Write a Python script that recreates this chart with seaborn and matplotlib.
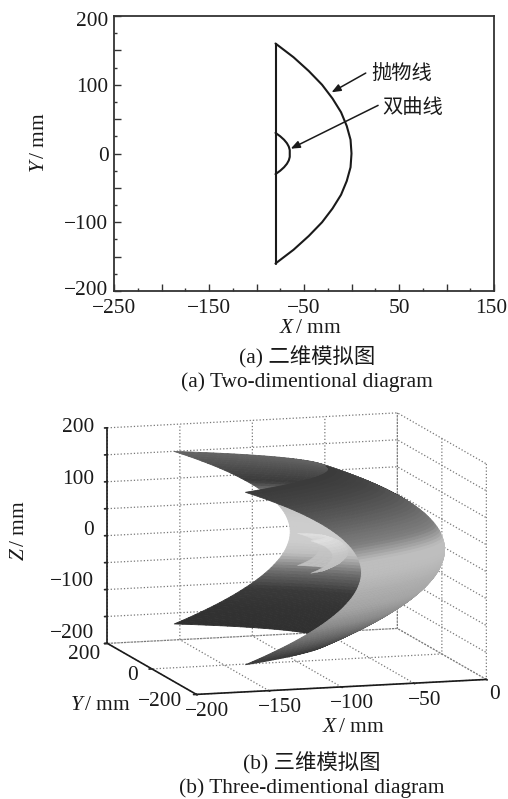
import numpy as np
import matplotlib
matplotlib.use("Agg")
import matplotlib.pyplot as plt
from matplotlib.ticker import FixedLocator
from matplotlib.transforms import ScaledTranslation
import pandas as pd
import seaborn as sns
from mpl_toolkits.mplot3d import proj3d

# ---- data ----
parabola_y = [160, 140, 120, 100, 80, 60, 40, 20, 0, -20, -40, -60, -80, -100, -120, -140, -160]
parabola_x = [-80, -61, -45, -31, -20, -11, -5, -1, 0, -1, -5, -11, -20, -31, -45, -61, -80]
hyperbola_y = [30, 25, 20, 15, 10, 5, 0, -5, -10, -15, -20, -25, -30]
hyperbola_x = [-80, -75, -71, -68, -66, -65, -65, -65, -66, -68, -71, -75, -80]
aperture_x = [-80, -80]
aperture_y = [160, -160]

# half profile of the reflector (depth against off-axis distance), read every 5 mm
profile_r = [0, 5, 10, 15, 20, 25, 30, 35, 40, 45, 50, 55, 60, 65, 70, 75, 80, 85, 90, 95, 100,
             105, 110, 115, 120, 125, 130, 135, 140, 145, 150, 155, 160]
profile_d = [0, -0.1, -0.3, -0.7, -1.3, -2, -2.8, -3.8, -5, -6.3, -7.8, -9.5, -11.3, -13.2, -15.3,
             -17.6, -20, -22.6, -25.3, -28.2, -31.3, -34.5, -37.8, -41.3, -45, -48.8, -52.8, -57,
             -61.3, -65.7, -70.3, -75.1, -80]
sub_r = [0, 5, 10, 15, 20, 25, 30]
sub_d = [0, -0.4, -1.6, -3.5, -6, -10, -15]
sub_vertex = -65

# grey level seen against height
shade_z = [-160, -130, -100, -70, -40, -15, 0, 20, 50, 80, 100, 130, 160]
shade_outer = [55, 100, 140, 165, 175, 185, 190, 190, 128, 105, 90, 70, 58]
shade_inner = [48, 50, 58, 110, 190, 205, 205, 205, 195, 120, 58, 78, 100]
sub_shade_z = [-30, 0, 30]
sub_shade = [190, 198, 225]

xticks2d = [-250, -200, -150, -100, -50, 0, 50, 100, 150]
xlabels2d = [-250, -150, -50, 50, 150]
xminor2d = [-225, -175, -125, -75, -25, 25, 75, 125]
yticks2d = [-200, -150, -100, -50, 0, 50, 100, 150, 200]
ylabels2d = [-200, -100, 0, 100, 200]
yminor2d = [-175, -125, -75, -25, 25, 75, 125, 175]
xticks3d = [-200, -150, -100, -50, 0]
yticks3d = [-200, 0, 200]
zticks3d = [-200, -150, -100, -50, 0, 50, 100, 150, 200]

# ---- style ----
sns.set_theme(style="white")
FAM = ["Liberation Serif", "Noto Sans CJK SC"]
plt.rcParams["font.family"] = FAM
plt.rcParams["mathtext.fontset"] = "custom"
plt.rcParams["mathtext.it"] = "Liberation Serif:italic"
plt.rcParams["mathtext.rm"] = "Liberation Serif"
plt.rcParams["text.color"] = "#1a1a1a"
FS = 15.4
W, H = 508, 799
fig = plt.figure(figsize=(W / 100, H / 100), dpi=100, facecolor="white")
INK = "#1a1a1a"


def lab(v):
    return f"\u2212{abs(v)}" if v < 0 else f"{v}"


# ---- (a) ----
ax = fig.add_axes([114 / W, 1 - 291 / H, 380 / W, 275 / H])
df = pd.DataFrame({"x": parabola_x, "y": parabola_y})
sns.lineplot(data=df, x="x", y="y", sort=False, estimator=None, color=INK, lw=1.5, ax=ax)
sns.lineplot(x=hyperbola_x, y=hyperbola_y, sort=False, estimator=None, color=INK, lw=1.5, ax=ax)
sns.lineplot(x=aperture_x, y=aperture_y, sort=False, estimator=None, color=INK, lw=1.5, ax=ax)
ax.set_xlim(-250, 150)
ax.set_ylim(-200, 200)
ax.set_xticks(xticks2d, [lab(v) if v in xlabels2d else "" for v in xticks2d], fontsize=FS, color=INK)
ax.set_yticks(yticks2d, [lab(v) if v in ylabels2d else "" for v in yticks2d], fontsize=FS, color=INK)
ax.xaxis.set_minor_locator(FixedLocator(xminor2d))
ax.yaxis.set_minor_locator(FixedLocator(yminor2d))
ax.tick_params(axis="x", which="major", pad=6)
ax.tick_params(axis="y", which="major", pad=4)
ax.tick_params(which="major", direction="in", length=5, width=1, color="#333333", bottom=True, left=True)
ax.tick_params(which="minor", direction="in", length=2.5, width=1, color="#333333", bottom=True, left=True)
for t, v in zip(ax.get_yticklabels(), yticks2d):
    if abs(v) == 200:
        t.set_transform(t.get_transform() + ScaledTranslation(0, -np.sign(v) * 3 / 100, fig.dpi_scale_trans))
for t, v in zip(ax.get_xticklabels(), xticks2d):
    if v == 150:
        t.set_transform(t.get_transform() + ScaledTranslation(-3 / 100, 0, fig.dpi_scale_trans))
for s in ax.spines.values():
    s.set_color("#333333")
    s.set_linewidth(1.3)
ax.set_xlabel(r"$\mathit{X}\,$/ mm", fontsize=FS, color=INK, va="center")
ax.set_ylabel(r"$\mathit{Y}\,$/ mm", fontsize=FS, color=INK, va="center")
ax.xaxis.set_label_coords((310 - 114) / 380, (291 - 328) / 275)
ax.yaxis.set_label_coords((39 - 114) / 380, (291 - 143) / 275)
arrow = dict(arrowstyle="-|>,head_length=0.45,head_width=0.18", color=INK, lw=1.1, shrinkA=0, shrinkB=0)
ax.annotate("", xy=(-21, 89), xytext=(15, 117), arrowprops=arrow)
ax.annotate("", xy=(-64, 7), xytext=(28, 70), arrowprops=arrow)
ax.text(21, 115, "抛物线", fontsize=14.6, ha="left", va="center", color=INK)
ax.text(32, 66, "双曲线", fontsize=14.6, ha="left", va="center", color=INK)

fig.text(307 / W, 1 - 357 / H, "(a) 二维模拟图", fontsize=FS, ha="center", va="center", color=INK)
fig.text(307 / W, 1 - 382 / H, "(a) Two-dimentional diagram", fontsize=FS, ha="center", va="center", color=INK)
fig.text(312 / W, 1 - 763 / H, "(b) 三维模拟图", fontsize=FS, ha="center", va="center", color=INK)
fig.text(312 / W, 1 - 788 / H, "(b) Three-dimentional diagram", fontsize=FS, ha="center", va="center", color=INK)

# ---- (b) ----
box = (303, 310, 219)
ax3 = fig.add_axes([0.1, 0.1, 0.6, 0.6 * W / H], projection="3d", proj_type="ortho")
ax3.view_init(elev=9.9, azim=-106.7)
ax3.set_box_aspect(box)
ax3.set_xlim(-200, 0, view_margin=0)
ax3.set_ylim(-200, 200, view_margin=0)
ax3.set_zlim(-200, 200, view_margin=0)
ax3.patch.set_alpha(0)
ax3.computed_zorder = False

# fit the 3-D box onto its place in the figure
ax3.apply_aspect()
M = ax3.get_proj()
pts = [proj3d.proj_transform(x, y, -200, M) for x, y in ((-200, 200), (0, -200))]
side = ax3.get_position().width * W
unit = ax3.transData.transform((pts[1][0], 0))[0] - ax3.transData.transform((pts[0][0], 0))[0]
new_side = side * (485 - 106) / unit
cx, cy = 290.5, 560
ax3.set_position([(cx - new_side / 2) / W, 1 - (cy + new_side / 2) / H, new_side / W, new_side / H])

r = np.array(profile_r, float)
d = np.array(profile_d, float)
R = np.r_[-r[:0:-1], r]
D = np.r_[d[:0:-1], d]
Y, Z = np.meshgrid(R, R, indexing="ij")
X = np.add.outer(D, D)

cam = np.array([np.cos(np.radians(-106.7)) * np.cos(np.radians(9.9)),
                np.sin(np.radians(-106.7)) * np.cos(np.radians(9.9)),
                np.sin(np.radians(9.9))])


def cell_colors(yy, zz):
    yc = (yy[:-1, :-1] + yy[1:, 1:]) / 2
    zc = (zz[:-1, :-1] + zz[1:, 1:]) / 2
    outer = (1 * cam[0] + yc / 160 * cam[1] + zc / 160 * cam[2]) > -0.12
    g = np.where(outer, np.interp(zc, shade_z, shade_outer), np.interp(zc, shade_z, shade_inner)) / 255
    return np.dstack([g, g, g, np.ones_like(g)])


fc = cell_colors(Y, Z)
surf = ax3.plot_surface(X, Y, Z, facecolors=fc, shade=False, rstride=1, cstride=1,
                        antialiased=True, linewidth=0, zorder=2)
surf.set_edgecolor(fc.reshape(-1, 4))
surf.set_linewidth(0.6)

s = np.array(sub_r, float)
sd = np.array(sub_d, float)
SR = np.r_[-s[:0:-1], s]
SD = np.r_[sd[:0:-1], sd]
SY, SZ = np.meshgrid(SR, SR, indexing="ij")
SX = sub_vertex + np.add.outer(SD, SD)
sg = np.interp((SZ[:-1, :-1] + SZ[1:, 1:]) / 2, sub_shade_z, sub_shade) / 255
sfc = np.dstack([sg, sg, sg, np.ones_like(sg)])
sub = ax3.plot_surface(SX, SY, SZ, facecolors=sfc, shade=False, rstride=1, cstride=1, linewidth=0, zorder=3)
sub.set_edgecolor(sfc.reshape(-1, 4))
sub.set_linewidth(0.3)

ax3.set_xticks(xticks3d, [""] * len(xticks3d))
ax3.set_yticks(yticks3d, [""] * len(yticks3d))
ax3.set_zticks(zticks3d, [""] * len(zticks3d))
for a in (ax3.xaxis, ax3.yaxis, ax3.zaxis):
    a.set_pane_color((1, 1, 1, 0))
    a.pane.set_edgecolor((1, 1, 1, 0))
    a.line.set_color(INK)
    a.line.set_linewidth(1.2)
    a._axinfo["grid"].update(color="#777777", linestyle=":", linewidth=0.9)
    a._axinfo["tick"].update(inward_factor=0.12, outward_factor=0.0)
ax3.grid(True)
ax3.yaxis.set_ticks_position("lower")
ax3.zaxis.set_ticks_position("upper")


def tick_label(text, x, y, z, dx, dy, ha):
    """Tick text placed from the 3-D position of its tick, offset in pixels."""
    px, py, _ = proj3d.proj_transform(x, y, z, ax3.get_proj())
    ax3.annotate(text, xy=(px, py), xycoords="data", xytext=(dx, -dy), textcoords="offset pixels",
                 fontsize=FS, ha=ha, va="center", color=INK, annotation_clip=False)


for v in xticks3d:
    tick_label(lab(v), v, -200, -200, 8 if v == 0 else 11, 15 if v == 0 else 17, "center")
for v in yticks3d:
    tick_label(lab(v), -200, v, -200, -7 if v > 0 else -14, 11 if v > 0 else 7, "right")
for v in zticks3d:
    if v % 100 == 0:
        tick_label(lab(v), -200, 200, v, -13, -5 + 5 * v / 200, "right")

fig.text(353 / W, 1 - 728 / H, r"$\mathit{X}\,$/ mm", fontsize=FS, ha="center", va="center", color=INK)
fig.text(100 / W, 1 - 705 / H, r"$\mathit{Y}\,$/ mm", fontsize=FS, ha="center", va="center", color=INK)
fig.text(19 / W, 1 - 531 / H, r"$\mathit{Z}\,$/ mm", fontsize=FS, ha="center", va="center", rotation=90, color=INK)

fig.savefig("out.png", dpi=100, facecolor="white")
